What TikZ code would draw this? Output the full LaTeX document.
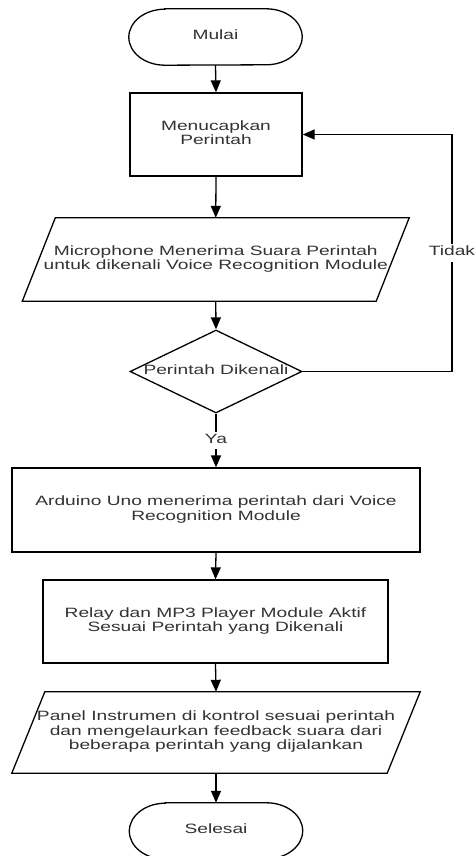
\documentclass[tikz,border=0pt]{standalone}
\usepackage{fontspec}
\setmainfont{Liberation Sans}
\usepackage{graphicx}
\usetikzlibrary{arrows.meta,shapes.geometric}

% wide sans text, stacked lines centred
\newcommand\wtext[1]{\scalebox{1.42}[1]{\begin{tabular}{@{}c@{}}#1\end{tabular}}}
% start/end terminal outline around a named node
\newcommand\termoutline[1]{%
  \draw[stroke] ([xshift=36pt]#1.north west) -- ([xshift=-36pt]#1.north east)
    arc[start angle=90,end angle=-90,x radius=36pt,y radius=28pt]
    -- ([xshift=36pt]#1.south west)
    arc[start angle=270,end angle=90,x radius=36pt,y radius=28pt] -- cycle;}
% input/output parallelogram outline around a named node
\newcommand\iooutline[1]{%
  \draw[stroke] ([xshift=16.5pt]#1.north west) -- ([xshift=16.5pt]#1.north east)
    -- ([xshift=-16.5pt]#1.south east) -- ([xshift=-16.5pt]#1.south west) -- cycle;}

\begin{document}
\begin{tikzpicture}[x=1pt,y=-1pt,
  stroke/.style={line width=1.3pt, black},
  arr/.style={stroke, -{Triangle[width=10pt,length=12pt]}},
  body/.style={inner sep=0pt, text=black!80, font=\fontsize{13.5}{14.5}\selectfont},
  proc/.style={body, rectangle, draw, line width=1.3pt},
  io/.style={body, rectangle},
  term/.style={body, rectangle, minimum width=173pt, minimum height=56pt},
  tag/.style={body, fill=white, inner sep=1.5pt}]

\fill[white] (0,0) rectangle (476,856);
\useasboundingbox (0,0) rectangle (476,856);
\clip (0,0) rectangle (476,856);

% nodes
\node[term] (start) at (215.5,37) {\wtext{Mulai}};
\termoutline{start}

\node[proc, minimum width=172pt, minimum height=83pt] (say) at (216,134.5)
  {\wtext{Menucapkan\\Perintah}};

\node[io, minimum width=353.5pt, minimum height=83pt] (mic) at (215.75,259.5)
  {\wtext{Microphone Menerima Suara Perintah\\untuk dikenali Voice Recognition Module}};
\iooutline{mic}

\node[body, diamond, draw, line width=1.3pt, minimum width=172pt, minimum height=83pt]
  (dec) at (216,371.5) {\makebox[0pt]{\wtext{Perintah Dikenali}}};

\node[proc, minimum width=408pt, minimum height=84pt] (ard) at (216,510)
  {\wtext{Arduino Uno menerima perintah dari Voice\\Recognition Module}};

\node[proc, minimum width=345pt, minimum height=83pt] (rel) at (215.5,621.5)
  {\wtext{Relay dan MP3 Player Module Aktif\\Sesuai Perintah yang Dikenali}};

\node[io, minimum width=375pt, minimum height=81pt] (pan) at (216,732.5)
  {\wtext{Panel Instrumen di kontrol sesuai perintah\\dan mengelaurkan feedback suara dari\\beberapa perintah yang dijalankan}};
\iooutline{pan}

\node[term] (stop) at (216,831) {\wtext{Selesai}};
\termoutline{stop}

% connectors
\draw[arr] (start.south) -- (say.north);
\draw[arr] (say.south) -- (mic.north);
\draw[arr] (mic.south) -- (dec.north);
\draw[arr] (dec.south) -- node[tag] {\wtext{Ya}} (ard.north);
\draw[arr] (ard.south) -- (rel.north);
\draw[arr] (rel.south) -- (pan.north);
\draw[arr] (pan.south) -- (stop.north);
\coordinate (loop) at (452,371.5);
\draw[arr] (dec.east) -- (loop) |- node[tag, pos=0.25] {\wtext{Tidak}} (say.east);
\end{tikzpicture}
\end{document}
